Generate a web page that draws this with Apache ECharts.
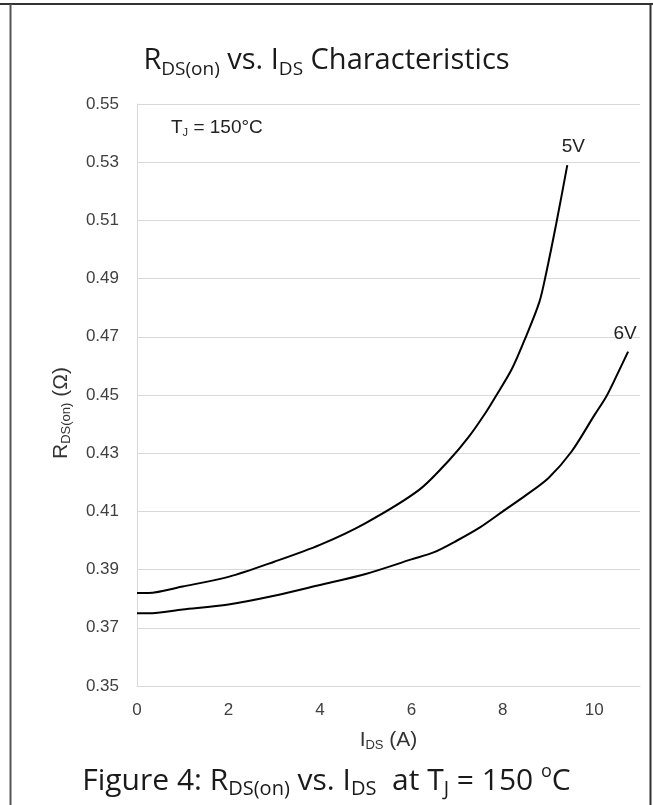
<!DOCTYPE html>
<html>
<head>
<meta charset="utf-8">
<script src="https://cdn.jsdelivr.net/npm/echarts@6/dist/echarts.min.js"></script>
<style>
html,body{margin:0;padding:0;background:#fff;}
#c{width:653px;height:805px;}
</style>
</head>
<body>
<div id="c"></div>
<script>
// ---- data ----
const xTicks = [0, 2, 4, 6, 8, 10];
const yTicks = [0.35, 0.37, 0.39, 0.41, 0.43, 0.45, 0.47, 0.49, 0.51, 0.53, 0.55];
const ids5V = [0, 0.25, 1, 2, 3, 4, 5, 6.17, 6.82, 7.25, 7.62, 7.84, 8.2, 8.52, 8.8, 8.95, 9.17, 9.41];
const rds5V = [0.382, 0.382, 0.3842, 0.3875, 0.3927, 0.3985, 0.406, 0.4174, 0.4275, 0.4355, 0.4438, 0.4494, 0.459, 0.4706, 0.482, 0.492, 0.509, 0.529];
const ids6V = [0, 0.25, 1, 2, 3, 4, 5, 6, 6.5, 7, 7.5, 8, 8.5, 9, 9.5, 10, 10.26, 10.5, 10.74];
const rds6V = [0.375, 0.375, 0.3763, 0.378, 0.381, 0.3847, 0.3885, 0.3935, 0.396, 0.4, 0.4045, 0.41, 0.4155, 0.4215, 0.4305, 0.443, 0.4494, 0.457, 0.4649];
const seriesNames = ['5V', '6V'];

function pairs(xs, ys) { return xs.map((x, i) => [x, ys[i]]); }
function endMark(xs, ys, name, off) {
  const n = xs.length - 1;
  return {
    symbol: 'circle', symbolSize: 1, silent: true,
    itemStyle: { color: 'rgba(0,0,0,0)' },
    label: { show: true, formatter: name, position: 'top', distance: 8, offset: off,
      color: '#222', fontSize: 19, fontFamily: 'Liberation Sans' },
    data: [{ coord: [xs[n], ys[n]] }]
  };
}

const chart = echarts.init(document.getElementById('c'), null, { renderer: 'canvas' });
const capFont = "'Open Sans'";
const richTitle = {
  m: { fontFamily: capFont, fontSize: 29, fontWeight: 'normal', color: '#1a1a1a', lineHeight: 36 },
  s: { fontFamily: capFont, fontSize: 19, fontWeight: 'normal', color: '#1a1a1a', lineHeight: 16, verticalAlign: 'bottom' },
  u: { fontFamily: capFont, fontSize: 18, fontWeight: 'normal', color: '#1a1a1a', lineHeight: 16, verticalAlign: 'top' }
};
const richAxis = {
  m: { fontFamily: 'Liberation Sans', fontSize: 21, color: '#333', lineHeight: 24 },
  s: { fontFamily: 'Liberation Sans', fontSize: 13, color: '#333', lineHeight: 12, verticalAlign: 'bottom' }
};
chart.setOption({
  animation: false,
  backgroundColor: '#fff',
  title: [
    {
      text: '{m|R}{s|DS(on)}{m| vs. I}{s|DS}{m| Characteristics}',
      left: 'center', top: 38,
      textStyle: { fontWeight: 'normal', rich: richTitle }
    },
    {
      text: '{m|Figure 4: R}{s|DS(on)}{m| vs. I}{s|DS}{m|  at T}{s|J}{m| = 150 }{u|o}{m|C}',
      left: 'center', top: 758,
      textStyle: { fontWeight: 'normal', rich: Object.assign({}, richTitle, {
        m: Object.assign({}, richTitle.m, { fontSize: 30 }),
        s: Object.assign({}, richTitle.s, { fontSize: 20 })
      }) }
    }
  ],
  grid: { left: 137, top: 104, right: 13, bottom: 119, containLabel: false },
  xAxis: {
    type: 'value', min: 0, max: 11, interval: 2,
    axisLine: { show: true, lineStyle: { color: '#d9d9d9', width: 1 } },
    axisTick: { show: false },
    splitLine: { show: false },
    axisLabel: { color: '#404040', fontSize: 17, fontFamily: 'Liberation Sans', margin: 16,
      formatter: v => xTicks.includes(v) ? String(v) : '' },
    name: '{m|I}{s|DS}{m| (A)}',
    nameLocation: 'middle', nameGap: 42,
    nameTextStyle: { fontSize: 21, fontFamily: 'Liberation Sans', color: '#333', rich: richAxis }
  },
  yAxis: {
    type: 'value', min: yTicks[0], max: yTicks[yTicks.length - 1], interval: 0.02,
    axisLine: { show: true, lineStyle: { color: '#d9d9d9', width: 1 } },
    axisTick: { show: false },
    splitLine: { show: true, lineStyle: { color: '#d9d9d9', width: 1 } },
    axisLabel: { color: '#404040', fontSize: 17, fontFamily: 'Liberation Sans', margin: 18,
      formatter: v => v.toFixed(2) },
    name: '{m|R}{s|DS(on)}{m| (Ω)}',
    nameLocation: 'middle', nameGap: 64, nameRotate: 90,
    nameTextStyle: { fontSize: 21, fontFamily: 'Liberation Sans', color: '#333', padding: [0, 0, 0, -36], rich: richAxis }
  },
  series: [
    { name: seriesNames[0], type: 'line', smooth: 0.3, showSymbol: false, symbol: 'none',
      lineStyle: { color: '#000', width: 2 }, data: pairs(ids5V, rds5V),
      markPoint: endMark(ids5V, rds5V, seriesNames[0], [6, 0]) },
    { name: seriesNames[1], type: 'line', smooth: 0.3, showSymbol: false, symbol: 'none',
      lineStyle: { color: '#000', width: 2 }, data: pairs(ids6V, rds6V),
      markPoint: endMark(ids6V, rds6V, seriesNames[1], [-3, 0]) }
  ],
  graphic: [
    { type: 'text', left: 171, top: 118,
      style: { text: '{m|T}{s|J}{m| = 150°C}',
        rich: {
          m: { fontFamily: 'Liberation Sans', fontSize: 19, fill: '#222', lineHeight: 21 },
          s: { fontFamily: 'Liberation Sans', fontSize: 11, fill: '#222', lineHeight: 9, verticalAlign: 'bottom' }
        } } },
    { type: 'line', shape: { x1: 0, y1: 4, x2: 653, y2: 4 }, style: { stroke: '#333', lineWidth: 2 } },
    { type: 'line', shape: { x1: 10.5, y1: 4, x2: 10.5, y2: 805 }, style: { stroke: '#555', lineWidth: 2 } },
    { type: 'line', shape: { x1: 650.5, y1: 4, x2: 650.5, y2: 805 }, style: { stroke: '#333', lineWidth: 2 } }
  ]
});
</script>
</body>
</html>
